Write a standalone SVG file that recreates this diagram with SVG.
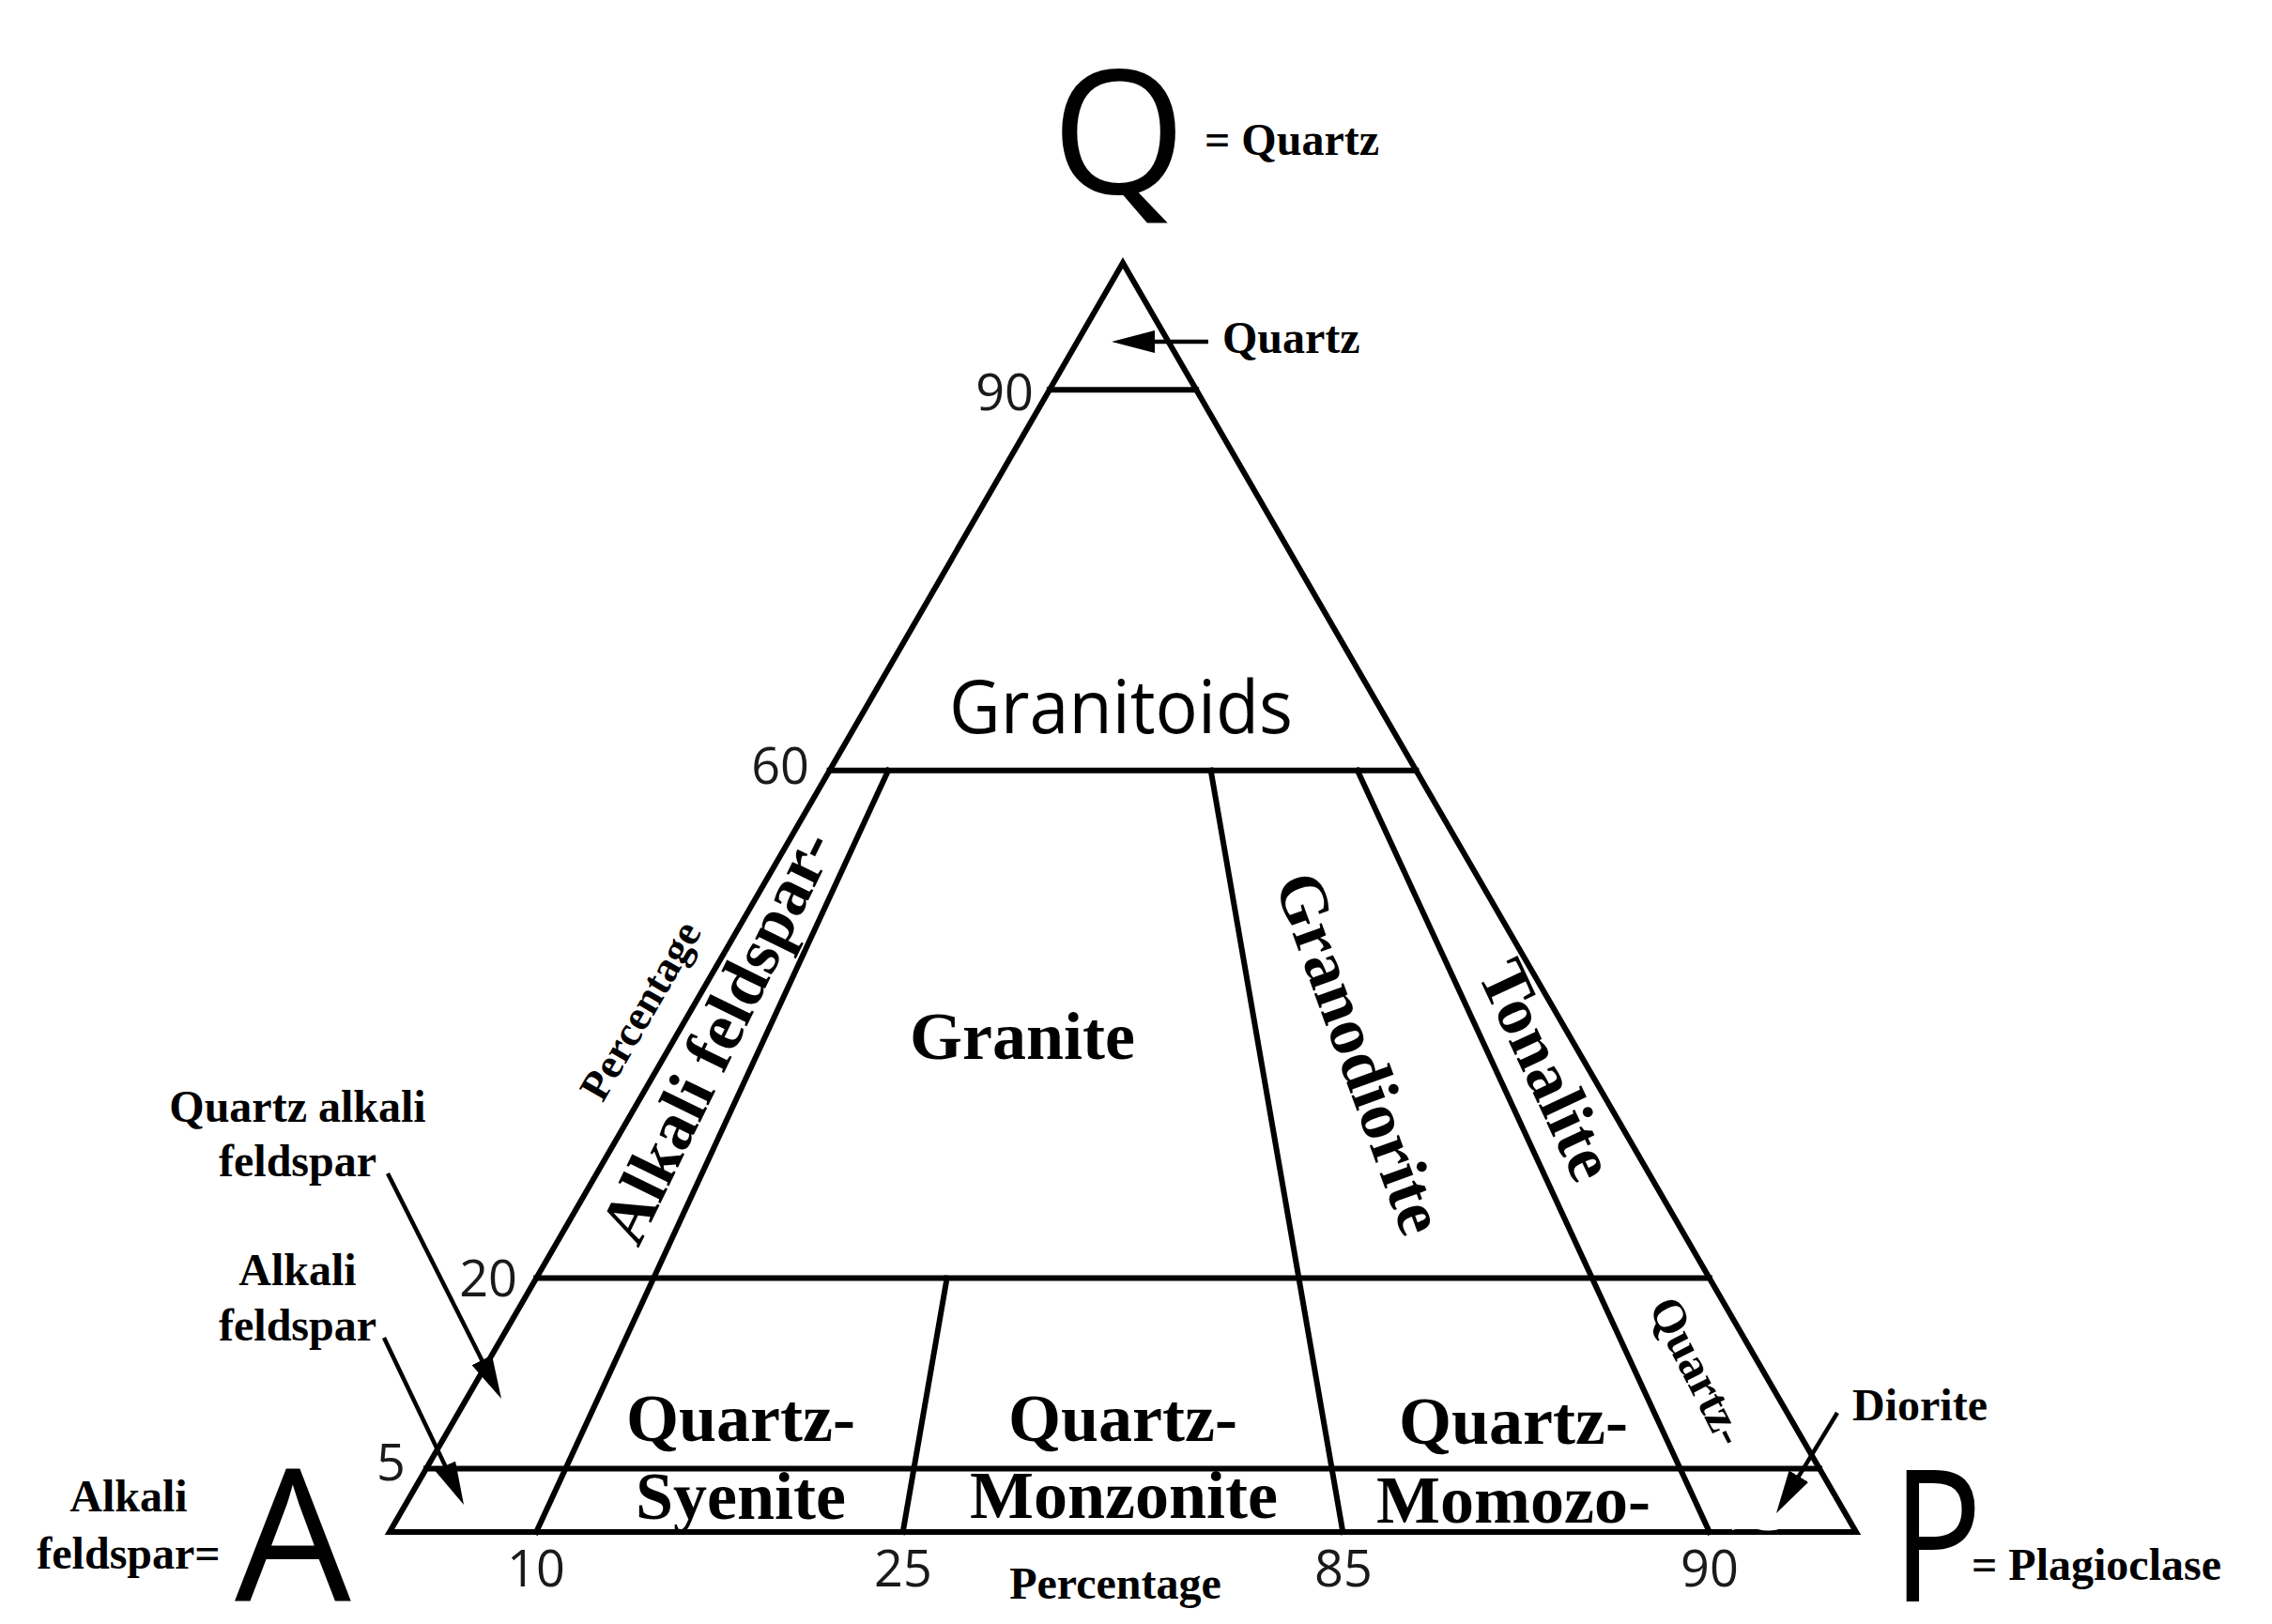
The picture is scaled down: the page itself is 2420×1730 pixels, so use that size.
<svg xmlns="http://www.w3.org/2000/svg" width="2420" height="1730" viewBox="0 0 2420 1730">
<style>
.ln{stroke:#000;stroke-width:6;fill:none;stroke-linejoin:miter;stroke-linecap:square}
.arr{stroke:#000;stroke-width:4.5;fill:none;marker-end:url(#ah)}
.s{font-family:"Liberation Serif","Times New Roman",serif;font-weight:bold;fill:#000}
.n{font-family:"Open Sans","Noto Sans",sans-serif;font-size:54px;fill:#1a1a1a}
.big{font-family:"Open Sans","Noto Sans",sans-serif;fill:#000}
</style>
<defs>
<marker id="ah" viewBox="0 0 46 24" refX="26" refY="12" markerWidth="46" markerHeight="24" orient="auto" markerUnits="userSpaceOnUse">
<path d="M0,0 L46,12 L0,24 Z" fill="#000"/>
</marker>
</defs>
<rect width="2420" height="1730" fill="#fff"/>

<g id="triangle">
<polygon class="ln" points="415,1632 1196,280 1977,1632"/>
<line class="ln" x1="1117.9" y1="415.2" x2="1274.1" y2="415.2"/>
<line class="ln" x1="883.6" y1="820.8" x2="1508.4" y2="820.8"/>
<line class="ln" x1="571.2" y1="1361.6" x2="1820.8" y2="1361.6"/>
<line class="ln" x1="454" y1="1564.4" x2="1938" y2="1564.4"/>
<line class="ln" x1="946.1" y1="820.8" x2="571.2" y2="1632"/>
<line class="ln" x1="1008.6" y1="1361.6" x2="961.7" y2="1632"/>
<line class="ln" x1="1289.7" y1="820.8" x2="1430.3" y2="1632"/>
<line class="ln" x1="1445.9" y1="820.8" x2="1820.8" y2="1632"/>
<path d="M1845,1630 q14,-5 27,-1 q15,4 28,-2 l0,-4 l-55,0 z" fill="#fff"/>
</g>

<g id="ticks">
<text class="n" x="1101" y="437" text-anchor="end">90</text>
<text class="n" x="862" y="835" text-anchor="end">60</text>
<text class="n" x="551" y="1381" text-anchor="end">20</text>
<text class="n" x="432" y="1577" text-anchor="end">5</text>
<text class="n" x="571" y="1690" text-anchor="middle">10</text>
<text class="n" x="962" y="1690" text-anchor="middle">25</text>
<text class="n" x="1431" y="1690" text-anchor="middle">85</text>
<text class="n" x="1821" y="1690" text-anchor="middle">90</text>
</g>

<g id="vertex-q">
<text class="big" x="1120" y="206" font-size="184">Q</text>
<text class="s" x="1283" y="165" font-size="48">= Quartz</text>
</g>
<g id="vertex-a">
<text class="big" font-size="196" x="250" y="1705">A</text>
<text class="s" x="137" y="1610" font-size="48" text-anchor="middle">Alkali</text>
<text class="s" x="137" y="1671" font-size="48" text-anchor="middle">feldspar=</text>
</g>
<g id="vertex-p">
<text class="big" font-size="196" transform="translate(2015,1706) scale(0.82,1)">P</text>
<text class="s" x="2100" y="1683" font-size="48">= Plagioclase</text>
</g>

<g id="field-quartz"><text class="s" x="1302" y="376" font-size="48">Quartz</text></g>
<g id="field-granitoids"><text class="big" x="1011" y="781" font-size="78" textLength="366" lengthAdjust="spacingAndGlyphs">Granitoids</text></g>
<g id="field-alkali-feldspar-granite"><text class="s" font-size="72" transform="translate(680,1330) rotate(-64)">Alkali feldspar-</text></g>
<g id="axis-left"><text class="s" font-size="45" text-anchor="middle" transform="translate(695,1084) rotate(-60)">Percentage</text></g>
<g id="field-granite"><text class="s" x="969" y="1128" font-size="72">Granite</text></g>
<g id="field-granodiorite"><text class="s" font-size="72" text-anchor="middle" transform="translate(1426,1130) rotate(70)">Granodiorite</text></g>
<g id="field-tonalite"><text class="s" font-size="72" text-anchor="middle" transform="translate(1626,1150) rotate(65)">Tonalite</text></g>
<g id="field-quartz-diorite"><text class="s" font-size="50" text-anchor="middle" transform="translate(1794,1468) rotate(63)">Quartz-</text></g>
<g id="field-quartz-syenite">
<text class="s" x="789" y="1535" font-size="72" text-anchor="middle">Quartz-</text>
<text class="s" x="789" y="1618" font-size="72" text-anchor="middle">Syenite</text>
</g>
<g id="field-quartz-monzonite">
<text class="s" x="1196" y="1535" font-size="72" text-anchor="middle">Quartz-</text>
<text class="s" x="1197" y="1617" font-size="72" text-anchor="middle">Monzonite</text>
</g>
<g id="field-quartz-monzodiorite">
<text class="s" x="1612" y="1538" font-size="72" text-anchor="middle">Quartz-</text>
<text class="s" x="1612" y="1622" font-size="72" text-anchor="middle">Momozo-</text>
</g>
<g id="axis-bottom"><text class="s" x="1188" y="1703" font-size="48" text-anchor="middle">Percentage</text></g>
<g id="label-qaf">
<text class="s" x="317" y="1195" font-size="48" text-anchor="middle">Quartz alkali</text>
<text class="s" x="317" y="1253" font-size="48" text-anchor="middle">feldspar</text>
</g>
<g id="label-af">
<text class="s" x="317" y="1369" font-size="48" text-anchor="middle">Alkali</text>
<text class="s" x="317" y="1428" font-size="48" text-anchor="middle">feldspar</text>
</g>
<g id="label-diorite"><text class="s" x="1973" y="1513" font-size="48">Diorite</text></g>

<g id="connectors">
<line class="arr" x1="1287" y1="364" x2="1204" y2="364"/>
<line class="arr" x1="413" y1="1250" x2="525" y2="1472.1"/>
<line class="arr" x1="409" y1="1425" x2="485.4" y2="1585"/>
<line class="arr" x1="1957" y1="1505" x2="1902.4" y2="1594.9"/>
</g>
</svg>
